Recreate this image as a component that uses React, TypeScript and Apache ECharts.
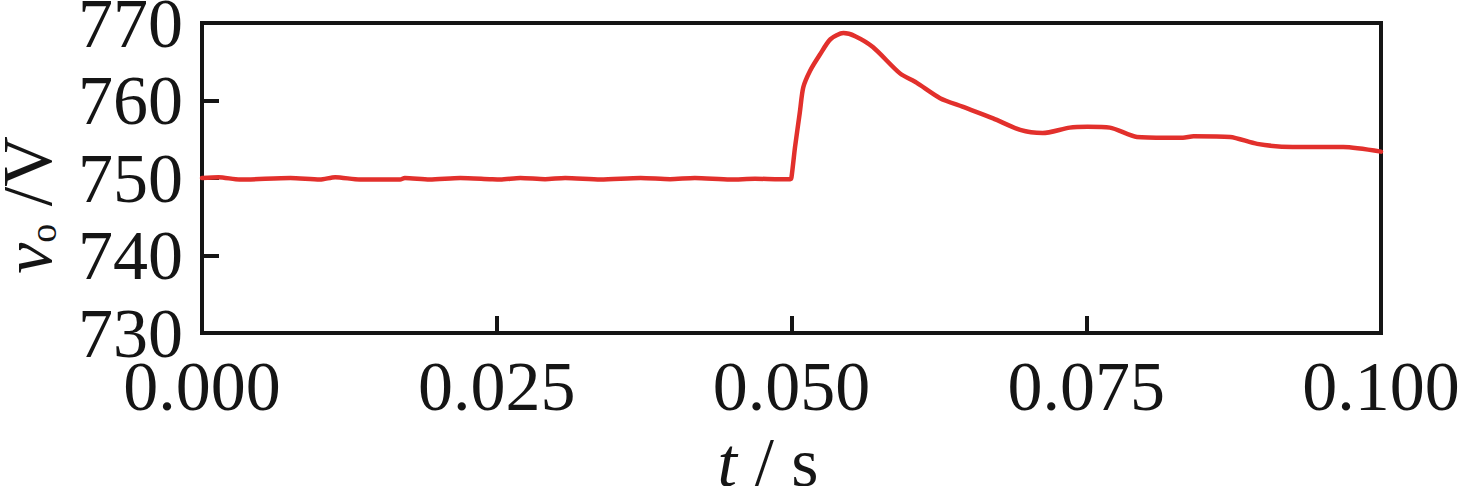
import React, { useEffect, useRef } from "react";
import * as echarts from "echarts";

const timeValues = [
  0, 0.0014, 0.0032, 0.0075, 0.01, 0.0113, 0.0134, 0.0168, 0.0172, 0.0193, 0.0219, 0.0244,
  0.0253, 0.027, 0.0291, 0.0308, 0.0338, 0.0372, 0.0397, 0.0418, 0.0448, 0.0469, 0.049, 0.0499,
  0.05, 0.0503, 0.0507, 0.051, 0.0516, 0.0524, 0.0533, 0.0544, 0.0554, 0.0569, 0.0592, 0.0606,
  0.0626, 0.0645, 0.0671, 0.0694, 0.0713, 0.0736, 0.0751, 0.077, 0.0793, 0.0818, 0.0832, 0.0841,
  0.0872, 0.0895, 0.0925, 0.0968, 0.1,
];
const voltageValues = [
  750.0, 750.1, 749.8, 750.0, 749.8, 750.1, 749.8, 749.8, 750.0, 749.8, 750.0, 749.85,
  749.8, 750.0, 749.85, 750.0, 749.8, 750.0, 749.85, 750.0, 749.8, 749.9, 749.85, 749.85,
  750.1, 754.0, 758.4, 761.7, 763.9, 765.9, 767.9, 768.7, 768.3, 766.9, 763.5, 762.3,
  760.3, 759.2, 757.7, 756.2, 755.8, 756.5, 756.6, 756.5, 755.3, 755.2, 755.2, 755.4,
  755.3, 754.4, 754.0, 754.0, 753.4,
];
const xTicks = { min: 0, max: 0.1, interval: 0.025 };
const yTicks = { min: 730, max: 770, interval: 10 };

const FONT = '"Liberation Serif", "Times New Roman", serif';

export default function App() {
  const ref = useRef<HTMLDivElement>(null);
  useEffect(() => {
    if (!ref.current) return;
    const chart = echarts.init(ref.current, null, { renderer: "svg" });
    chart.setOption({
      animation: false,
      backgroundColor: "#ffffff",
      grid: {
        left: 202,
        right: 79,
        top: 23,
        bottom: 153,
        containLabel: false,
        outerBoundsMode: "none",
        show: true,
        borderColor: "#151515",
        borderWidth: 4,
        backgroundColor: "transparent",
      },
      xAxis: {
        type: "value",
        min: xTicks.min,
        max: xTicks.max,
        interval: xTicks.interval,
        axisLine: { show: true, lineStyle: { color: "#151515", width: 4 } },
        axisTick: { show: true, inside: true, length: 17, lineStyle: { color: "#151515", width: 4 } },
        splitLine: { show: false },
        axisLabel: {
          color: "#151515",
          fontFamily: FONT,
          fontSize: 70,
          margin: 18,
          formatter: (v: number) => v.toFixed(3),
        },
      },
      yAxis: {
        type: "value",
        min: yTicks.min,
        max: yTicks.max,
        interval: yTicks.interval,
        axisLine: { show: true, lineStyle: { color: "#151515", width: 4 } },
        axisTick: { show: true, inside: true, length: 17, lineStyle: { color: "#151515", width: 4 } },
        splitLine: { show: false },
        axisLabel: {
          color: "#151515",
          fontFamily: FONT,
          fontSize: 70,
          margin: 19,
          formatter: (v: number) => String(Math.round(v)),
        },
      },
      series: [
        {
          type: "line",
          data: timeValues.map((t, i) => [t, voltageValues[i]]),
          showSymbol: false,
          smooth: 0.25,
          lineStyle: { color: "#e2302c", width: 4.5, join: "round", cap: "round" },
          z: 1,
        },
      ],
      graphic: [
        {
          type: "text",
          x: 768,
          y: 462,
          style: {
            text: "{i|t} / s",
            fill: "#151515",
            font: `70px ${FONT}`,
            align: "center",
            verticalAlign: "middle",
            rich: {
              i: { fontStyle: "italic", fontFamily: FONT, fontSize: 70, fill: "#151515" },
            },
          },
        },
        {
          type: "text",
          x: 27,
          y: 205,
          rotation: Math.PI / 2,
          style: {
            text: "{v|v}{o|o} /V",
            fill: "#151515",
            font: `70px ${FONT}`,
            align: "center",
            verticalAlign: "middle",
            rich: {
              v: { fontStyle: "italic", fontFamily: FONT, fontSize: 70, fill: "#151515", lineHeight: 70 },
              o: { fontFamily: FONT, fontSize: 38, fill: "#151515", verticalAlign: "bottom", lineHeight: 38 },
            },
          },
        },
      ],
    });
    return () => chart.dispose();
  }, []);
  return (
    <div
      ref={ref}
      style={{ position: "fixed", left: 0, top: 0, width: 1460, height: 486 }}
    />
  );
}
